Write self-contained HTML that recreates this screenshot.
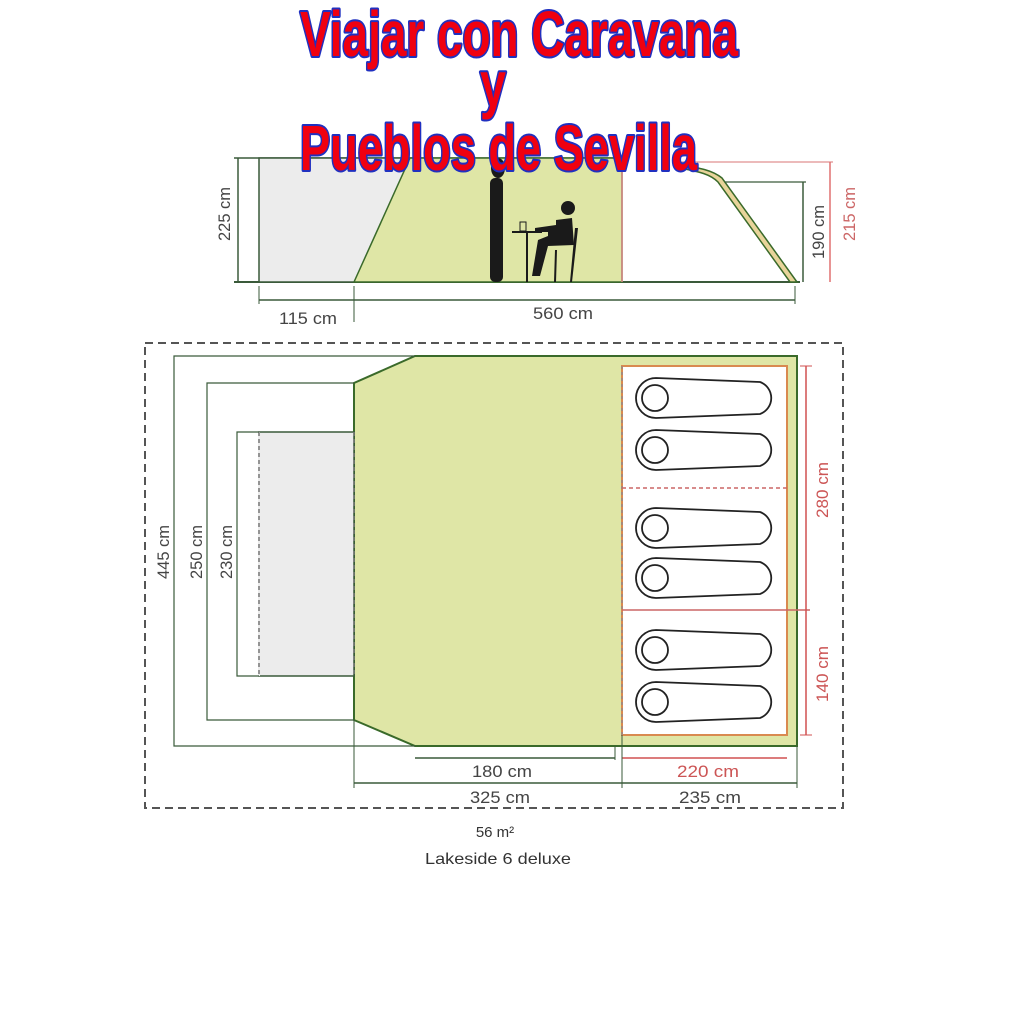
<!DOCTYPE html>
<html><head><meta charset="utf-8"><style>
html,body{margin:0;padding:0;background:#fff;}
svg{display:block;}
text{font-family:"Liberation Sans",sans-serif;}
</style></head><body>
<svg width="1024" height="1024" viewBox="0 0 1024 1024" xmlns="http://www.w3.org/2000/svg">
<rect width="1024" height="1024" fill="#fff"/>
<!-- SIDE VIEW -->
<line x1="234" y1="158" x2="622" y2="158" stroke="#3a5a3a" stroke-width="1.5"/>
<line x1="234" y1="282" x2="800" y2="282" stroke="#3a5a3a" stroke-width="2"/>
<line x1="238" y1="158" x2="238" y2="282" stroke="#3a5a3a" stroke-width="1.5"/>
<rect x="259" y="158" width="150" height="124" fill="#ececec" stroke="#3a5a3a" stroke-width="1.5"/>
<polygon points="354,282 410,158 622,158 622,282" fill="#dfe6a6" stroke="#3a6a2a" stroke-width="1.5"/>
<line x1="622" y1="158" x2="622" y2="282" stroke="#d88" stroke-width="1.5"/>
<path d="M680,168 C700,172 710,174 718,182 L790,282 L797,282 L722,178 C712,170 700,168 680,165 Z" fill="#e8d49a" stroke="#3a6a2a" stroke-width="1.5"/>
<line x1="680" y1="162" x2="833" y2="162" stroke="#e09090" stroke-width="1.2"/>
<line x1="830" y1="162" x2="830" y2="282" stroke="#e07070" stroke-width="1.5"/>
<line x1="725" y1="182" x2="806" y2="182" stroke="#3a5a3a" stroke-width="1.2"/>
<line x1="803" y1="182" x2="803" y2="282" stroke="#3a5a3a" stroke-width="1.5"/>
<g font-size="17" fill="#444">
<text transform="translate(230,214) rotate(-90)" text-anchor="middle" textLength="54" lengthAdjust="spacingAndGlyphs">225 cm</text>
<text transform="translate(824,232) rotate(-90)" text-anchor="middle" textLength="54" lengthAdjust="spacingAndGlyphs">190 cm</text>
<text transform="translate(855,214) rotate(-90)" text-anchor="middle" fill="#c66" textLength="54" lengthAdjust="spacingAndGlyphs">215 cm</text>
</g>
<!-- figures -->
<g fill="#1a1a1a">
<ellipse cx="498" cy="168" rx="7" ry="10"/>
<rect x="490" y="178" width="13" height="104" rx="5"/>
<circle cx="568" cy="208" r="7"/>
<path d="M556,220 L572,218 L574,245 L548,246 L540,276 L532,276 L538,240 L548,236 L548,232 L535,232 L535,228 L556,225 Z"/>
<rect x="512" y="231" width="30" height="2"/>
<rect x="526" y="233" width="2" height="49"/>
<rect x="520" y="222" width="6" height="9" fill="none" stroke="#1a1a1a"/>
<path d="M575,228 L578,228 L572,282 L570,282 Z M555,250 L557,250 L556,282 L554,282 Z"/>
</g>
<line x1="259" y1="300" x2="795" y2="300" stroke="#3a5a3a" stroke-width="1.5"/>
<line x1="259" y1="286" x2="259" y2="304" stroke="#3a5a3a"/>
<line x1="354" y1="286" x2="354" y2="322" stroke="#3a5a3a"/>
<line x1="795" y1="286" x2="795" y2="304" stroke="#3a5a3a"/>
<g font-size="17" fill="#444">
<text x="308" y="324" text-anchor="middle" textLength="58" lengthAdjust="spacingAndGlyphs">115 cm</text>
<text x="563" y="319" text-anchor="middle" textLength="60" lengthAdjust="spacingAndGlyphs">560 cm</text>
</g>

<!-- FLOOR PLAN -->
<rect x="145" y="343" width="698" height="465" fill="none" stroke="#555" stroke-width="2" stroke-dasharray="8,5"/>
<polygon points="354,383 415,356 797,356 797,746 415,746 354,720" fill="#dfe6a6" stroke="#3a6a2a" stroke-width="2"/>
<rect x="259" y="432" width="95" height="244" fill="#ececec" stroke="#3a5a3a" stroke-width="1.5"/>
<line x1="259" y1="432" x2="259" y2="676" stroke="#ececec" stroke-width="2"/>
<line x1="259" y1="432" x2="259" y2="676" stroke="#777" stroke-width="1.5" stroke-dasharray="4,3"/>
<line x1="354" y1="432" x2="354" y2="676" stroke="#777" stroke-width="1.5" stroke-dasharray="4,3"/>
<path d="M415,356 L174,356 L174,746 L415,746" fill="none" stroke="#3a5a3a" stroke-width="1.2"/>
<path d="M354,383 L207,383 L207,720 L354,720" fill="none" stroke="#3a5a3a" stroke-width="1.2"/>
<path d="M259,432 L237,432 L237,676 L259,676" fill="none" stroke="#3a5a3a" stroke-width="1.2"/>
<g font-size="17" fill="#444">
<text transform="translate(169,552) rotate(-90)" text-anchor="middle" textLength="54" lengthAdjust="spacingAndGlyphs">445 cm</text>
<text transform="translate(202,552) rotate(-90)" text-anchor="middle" textLength="54" lengthAdjust="spacingAndGlyphs">250 cm</text>
<text transform="translate(232,552) rotate(-90)" text-anchor="middle" textLength="54" lengthAdjust="spacingAndGlyphs">230 cm</text>
</g>
<!-- bedroom -->
<rect x="622" y="366" width="165" height="369" fill="#fff" stroke="#d98a50" stroke-width="2"/>
<line x1="622" y1="366" x2="622" y2="735" stroke="#a87" stroke-width="2" stroke-dasharray="3,3"/>
<line x1="622" y1="488" x2="787" y2="488" stroke="#c66" stroke-width="1.5" stroke-dasharray="4,3"/>
<line x1="622" y1="610" x2="810" y2="610" stroke="#c66" stroke-width="1.5"/>
<g fill="none" stroke="#222" stroke-width="1.8">
<g id="bag"><path d="M656,378 L760,382 A17,17 0 0 1 760,414 L656,418 A20,20 0 0 1 656,378 Z"/><circle cx="655" cy="398" r="13"/></g>
<use href="#bag" y="52"/><use href="#bag" y="130"/><use href="#bag" y="180"/><use href="#bag" y="252"/><use href="#bag" y="304"/>
</g>
<line x1="806" y1="366" x2="806" y2="735" stroke="#d05050" stroke-width="1.5"/>
<line x1="800" y1="366" x2="812" y2="366" stroke="#d05050"/>
<line x1="800" y1="735" x2="812" y2="735" stroke="#d05050"/>
<g font-size="17" fill="#c55">
<text transform="translate(828,490) rotate(-90)" text-anchor="middle" textLength="56" lengthAdjust="spacingAndGlyphs">280 cm</text>
<text transform="translate(828,674) rotate(-90)" text-anchor="middle" textLength="56" lengthAdjust="spacingAndGlyphs">140 cm</text>
</g>
<!-- bottom dims -->
<line x1="415" y1="758" x2="615" y2="758" stroke="#3a5a3a" stroke-width="1.5"/>
<line x1="615" y1="746" x2="615" y2="760" stroke="#3a5a3a"/>
<line x1="622" y1="758" x2="787" y2="758" stroke="#d05050" stroke-width="1.5"/>
<line x1="354" y1="720" x2="354" y2="788" stroke="#3a5a3a"/>
<line x1="622" y1="735" x2="622" y2="788" stroke="#3a5a3a"/>
<line x1="797" y1="746" x2="797" y2="788" stroke="#3a5a3a"/>
<line x1="354" y1="783" x2="797" y2="783" stroke="#3a5a3a" stroke-width="1.5"/>
<g font-size="17" fill="#444">
<text x="502" y="777" text-anchor="middle" textLength="60" lengthAdjust="spacingAndGlyphs">180 cm</text>
<text x="708" y="777" text-anchor="middle" fill="#c55" textLength="62" lengthAdjust="spacingAndGlyphs">220 cm</text>
<text x="500" y="803" text-anchor="middle" textLength="60" lengthAdjust="spacingAndGlyphs">325 cm</text>
<text x="710" y="803" text-anchor="middle" textLength="62" lengthAdjust="spacingAndGlyphs">235 cm</text>
</g>
<text x="495" y="837" text-anchor="middle" font-size="15" fill="#333">56 m²</text>
<text x="498" y="864" text-anchor="middle" font-size="16" fill="#333" textLength="146" lengthAdjust="spacingAndGlyphs">Lakeside 6 deluxe</text>

<!-- TITLE -->
<g font-weight="bold" fill="#f00010" stroke="#2030c0" stroke-width="4" paint-order="stroke" font-size="64" stroke-linejoin="round">
<text x="300" y="56" textLength="438" lengthAdjust="spacingAndGlyphs">Viajar con Caravana</text>
<text x="480" y="106" textLength="26" lengthAdjust="spacingAndGlyphs">y</text>
<text x="300" y="170" textLength="397" lengthAdjust="spacingAndGlyphs">Pueblos de Sevilla</text>
</g>
</svg>
</body></html>
